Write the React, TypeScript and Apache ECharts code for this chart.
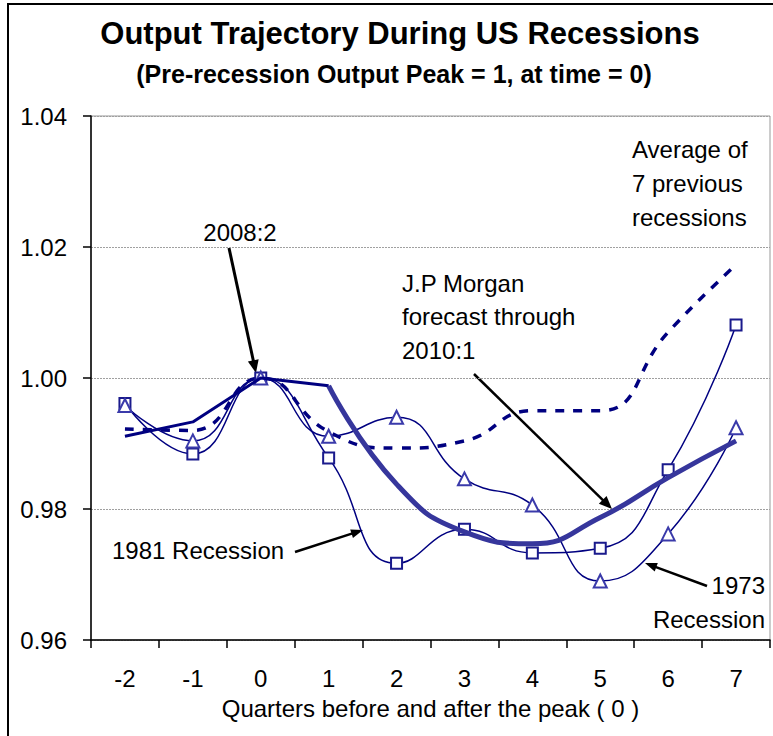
import React, { useEffect, useRef } from "react";
import * as echarts from "echarts";

const categories = ["-2", "-1", "0", "1", "2", "3", "4", "5", "6", "7"];
const jpMorgan = [0.9911, 0.9933, 1.0, 0.9988, 0.9838, 0.9765, 0.9747, 0.9787, 0.9848, 0.9904];
const averagePrev = [0.9922, 0.992, 1.0, 0.9918, 0.9893, 0.9904, 0.995, 0.995, 1.007, 1.0173];
const rec1981 = [0.9961, 0.9884, 1.0, 0.9878, 0.9717, 0.9769, 0.9733, 0.974, 0.986, 1.0081];
const rec1973 = [0.9958, 0.9904, 1.0, 0.9911, 0.994, 0.9846, 0.9806, 0.969, 0.9762, 0.9924];
const yTicks = { min: 0.96, max: 1.04, interval: 0.02 };

const FONT = '"Liberation Sans", Arial, sans-serif';

function arrow(x1: number, y1: number, x2: number, y2: number, w: number, hl: number, hw: number) {
  const dx = x2 - x1;
  const dy = y2 - y1;
  const len = Math.sqrt(dx * dx + dy * dy);
  const ux = dx / len;
  const uy = dy / len;
  const bx = x2 - ux * hl;
  const by = y2 - uy * hl;
  const px = -uy;
  const py = ux;
  return [
    {
      type: "line",
      shape: { x1, y1, x2: bx + ux * 1, y2: by + uy * 1 },
      style: { stroke: "#000", lineWidth: w },
      silent: true,
    },
    {
      type: "polygon",
      shape: {
        points: [
          [x2, y2],
          [bx + px * hw / 2, by + py * hw / 2],
          [bx - px * hw / 2, by - py * hw / 2],
        ],
      },
      style: { fill: "#000" },
      silent: true,
    },
  ];
}

function label(text: string, x: number, y: number, align: string) {
  return {
    type: "text",
    x,
    y,
    silent: true,
    style: {
      text,
      fill: "#000",
      fontSize: 24,
      fontFamily: FONT,
      align,
      verticalAlign: "middle",
    },
  };
}

export default function App() {
  const ref = useRef<HTMLDivElement>(null);
  useEffect(() => {
    if (!ref.current) return;
    const chart = echarts.init(ref.current, null, { renderer: "svg" });
    const jpHist = jpMorgan.map((v, i) => (i <= 3 ? v : "-"));
    const jpFcst = jpMorgan.map((v, i) => (i >= 3 ? v : "-"));
    const thick = { color: "#36369c", width: 5 };
    chart.setOption({
      animation: false,
      backgroundColor: "#fff",
      title: [
        {
          text: "Output Trajectory During US Recessions",
          left: 395,
          top: 13,
          textAlign: "center",
          textStyle: { fontSize: 31, fontWeight: "bold", fontFamily: FONT, color: "#000" },
        },
        {
          text: "(Pre-recession Output Peak = 1, at time = 0)",
          left: 389,
          top: 56,
          textAlign: "center",
          textStyle: { fontSize: 25, fontWeight: "bold", fontFamily: FONT, color: "#000" },
        },
      ],
      grid: {
        left: 91,
        right: 3,
        top: 116,
        bottom: 96,
        show: true,
        borderColor: "#999",
        borderWidth: 1,
        backgroundColor: "transparent",
      },
      xAxis: {
        type: "category",
        data: categories,
        boundaryGap: true,
        name: "Quarters before and after the peak ( 0 )",
        nameLocation: "middle",
        nameGap: 56,
        nameTextStyle: { fontSize: 24, fontFamily: FONT, color: "#000" },
        axisLine: { lineStyle: { color: "#000", width: 1.5 } },
        axisTick: { show: true, length: 8, lineStyle: { color: "#000", width: 1.5 } },
        axisLabel: { fontSize: 24, fontFamily: FONT, color: "#000", margin: 26 },
        splitLine: { show: false },
      },
      yAxis: {
        type: "value",
        min: yTicks.min,
        max: yTicks.max,
        interval: yTicks.interval,
        axisLine: { show: true, lineStyle: { color: "#000", width: 1.5 } },
        axisTick: { show: true, length: 8, lineStyle: { color: "#000", width: 1.5 } },
        axisLabel: {
          fontSize: 24,
          fontFamily: FONT,
          color: "#000",
          margin: 24,
          formatter: (v: number) => v.toFixed(2),
        },
        splitLine: { show: true, lineStyle: { color: "#a0a0a0", width: 1, type: [2, 1] } },
      },
      series: [
        {
          name: "Average of 7 previous recessions",
          type: "line",
          data: averagePrev,
          smooth: true,
          showSymbol: false,
          symbol: "none",
          lineStyle: { color: "#000080", width: 3.5, type: [9, 9] },
          z: 2,
        },
        {
          name: "1981 Recession",
          type: "line",
          data: rec1981,
          smooth: true,
          symbol: "emptyRect",
          symbolSize: 11,
          itemStyle: { color: "#1a1a8c", borderWidth: 1.5 },
          lineStyle: { color: "#000080", width: 1.5 },
          z: 3,
        },
        {
          name: "1973 Recession",
          type: "line",
          data: rec1973,
          smooth: true,
          symbol: "emptyTriangle",
          symbolSize: 13,
          itemStyle: { color: "#3a3aaa", borderWidth: 1.5 },
          lineStyle: { color: "#000080", width: 1.5 },
          z: 3,
        },
        {
          name: "J.P Morgan",
          type: "line",
          data: jpHist,
          smooth: false,
          symbol: "none",
          lineStyle: { color: "#000080", width: 3 },
          z: 4,
        },
        {
          name: "J.P Morgan forecast",
          type: "line",
          data: jpFcst,
          smooth: true,
          symbol: "none",
          lineStyle: thick,
          z: 4,
        },
      ],
      graphic: [
        {
          type: "rect",
          shape: { x: 8, y: 4, width: 800, height: 800 },
          style: { fill: "none", stroke: "#000", lineWidth: 2 },
          silent: true,
          z: 10,
        },
        label("2008:2", 240, 232, "center"),
        label("J.P Morgan", 402, 283, "left"),
        label("forecast through", 402, 316, "left"),
        label("2010:1", 402, 350, "left"),
        label("Average of", 632, 149, "left"),
        label("7 previous", 632, 183, "left"),
        label("recessions", 632, 217, "left"),
        label("1981 Recession", 112, 550, "left"),
        label("1973", 765, 585, "right"),
        label("Recession", 765, 619, "right"),
        ...arrow(229, 248, 256, 373, 3, 13, 11),
        ...arrow(474, 374, 612, 509, 2.5, 13, 11),
        ...arrow(295, 552, 363, 530, 2.5, 12, 9),
        ...arrow(707, 586, 645, 563, 2.5, 12, 9),
      ],
    });
    return () => chart.dispose();
  }, []);
  return (
    <div
      ref={ref}
      style={{ position: "absolute", left: 0, top: 0, width: 773, height: 736 }}
    />
  );
}
